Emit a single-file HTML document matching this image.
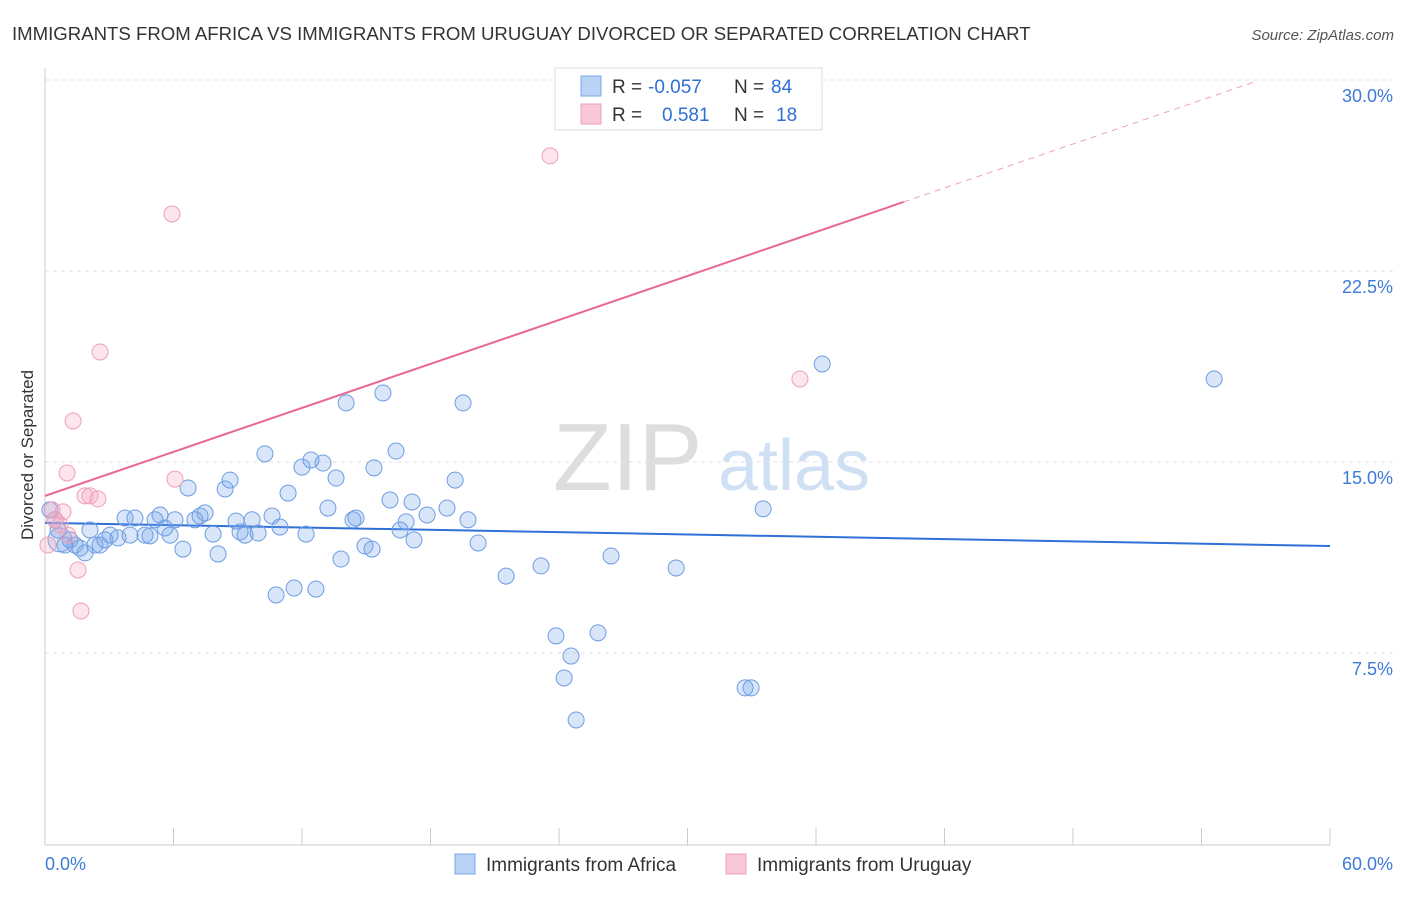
<!DOCTYPE html>
<html><head><meta charset="utf-8"><style>
body{margin:0;background:#fff;font-family:"Liberation Sans",sans-serif}
svg text{font-family:"Liberation Sans",sans-serif}
</style></head><body>
<svg id="chart" width="1406" height="892" viewBox="0 0 1406 892">
<text x="12" y="40" font-size="18.6" fill="#333">IMMIGRANTS FROM AFRICA VS IMMIGRANTS FROM URUGUAY DIVORCED OR SEPARATED CORRELATION CHART</text>
<text x="1394" y="40" font-size="15" fill="#555" font-style="italic" text-anchor="end">Source: ZipAtlas.com</text>
<text x="553" y="490" font-size="96" fill="#ddd" font-family="Liberation Serif">ZIP</text>
<text x="718" y="490" font-size="72" fill="#cfe0f5">atlas</text>
<g id="grid"></g><g id="axes"></g><g id="lines"></g><g id="points"></g>
<text transform="translate(33,455) rotate(-90)" font-size="17" fill="#333" text-anchor="middle">Divorced or Separated</text>
<g>
<rect x="555" y="68" width="267" height="62" fill="#fff" stroke="#ddd"/>
<rect x="581" y="76" width="20" height="20" fill="#b8d3f5" stroke="#7aa6e6"/>
<rect x="581" y="104" width="20" height="20" fill="#f9c8d6" stroke="#ef9fb8"/>
<text x="612" y="93" font-size="19" fill="#333">R = <tspan fill="#2e6fd6" x="648">-0.057</tspan><tspan x="734">N = </tspan><tspan fill="#2e6fd6" x="771">84</tspan></text>
<text x="612" y="121" font-size="19" fill="#333">R = <tspan fill="#2e6fd6" x="662">0.581</tspan><tspan x="734">N = </tspan><tspan fill="#2e6fd6" x="776">18</tspan></text>
</g>
<g>
<rect x="455" y="854" width="20" height="20" fill="#b8d3f5" stroke="#7aa6e6"/>
<text x="486" y="871" font-size="19" fill="#333">Immigrants from Africa</text>
<rect x="726" y="854" width="20" height="20" fill="#f9c8d6" stroke="#ef9fb8"/>
<text x="757" y="871" font-size="19" fill="#333">Immigrants from Uruguay</text>
</g>
</svg>
<script>
const blueX=[0.23,0.47,0.61,0.70,0.93,1.17,1.40,1.63,1.87,2.10,2.33,2.57,2.80,3.04,3.41,3.74,3.97,4.20,4.67,4.90,5.14,5.37,5.60,5.84,6.07,6.44,6.68,7.00,7.24,7.47,7.85,8.08,8.41,8.64,8.92,9.11,9.34,9.67,9.95,10.27,10.60,10.79,10.97,11.35,11.63,12.00,12.19,12.42,12.65,12.98,13.21,13.59,13.82,14.06,14.38,14.52,14.94,15.27,15.36,15.78,16.11,16.39,16.58,16.86,17.14,17.23,17.84,18.77,19.15,19.52,19.75,20.22,21.53,23.16,23.86,24.24,24.56,24.80,25.82,26.43,29.47,32.69,32.97,33.53,36.29,54.59];
const blueY=[13.12,12.73,12.33,11.94,11.74,11.94,11.74,11.62,11.43,12.33,11.74,11.74,11.94,12.13,12.02,12.80,12.13,12.80,12.13,12.10,12.73,12.92,12.41,12.13,12.73,11.58,13.98,12.73,12.88,13.00,12.17,11.39,13.94,14.29,12.68,12.25,12.13,12.73,12.21,15.32,12.88,9.78,12.45,13.78,10.05,14.80,12.17,15.08,10.01,14.96,13.19,14.37,11.19,17.32,12.73,12.80,11.70,11.58,14.77,17.71,13.51,15.43,12.33,12.65,13.43,11.94,12.92,13.19,14.29,17.32,12.73,11.82,10.52,10.92,8.17,6.52,7.38,4.87,8.29,11.31,10.84,6.13,6.13,13.16,18.85,18.26];
const pinkX=[0.14,0.33,0.47,0.70,0.84,1.07,1.03,1.31,1.54,1.68,1.87,2.10,2.47,2.57,5.93,6.07,23.58,35.25];
const pinkY=[11.74,13.12,12.73,12.53,13.04,12.13,14.57,16.61,10.76,9.15,13.67,13.67,13.55,19.32,24.74,14.33,27.02,18.26];
const blueTrend=[12.61,11.70];
const pinkTrend=[13.67,25.21];
const yTicks=[7.5,15.0,22.5,30.0];
const xTickLabels=["0.0%","60.0%"];
const NS="http://www.w3.org/2000/svg";
const sx=v=>45+v/60*1285, sy=v=>844-v/7.5*191;
function mk(t,a,p){const e=document.createElementNS(NS,t);for(const k in a)e.setAttribute(k,a[k]);p.appendChild(e);return e;}
const grid=document.getElementById('grid'),axes=document.getElementById('axes'),lines=document.getElementById('lines'),pts=document.getElementById('points');
yTicks.forEach(t=>{
 const l=mk('line',{x1:45,x2:1394,y1:sy(t),y2:sy(t),stroke:'#e2e2e2','stroke-dasharray':'4,4'},grid);
 
 
 const tx=mk('text',{x:1393,y:sy(t)+22,'font-size':18,fill:'#3d7bd9','text-anchor':'end'},axes);
 tx.textContent=t.toFixed(1)+'%';
 
 
});
const ax=mk('line',{x1:45,x2:1330,y1:845,y2:845,stroke:'#ccc'},axes);


const ay=mk('line',{x1:45,x2:45,y1:68,y2:845,stroke:'#ccc'},axes);


for(let i=0;i<=10;i++){const x=sx(i*6);const tk=mk('line',{x1:x,x2:x,y1:828,y2:845,stroke:'#ccc'},axes);
 
 }
xTickLabels.forEach((s,i)=>{const t=mk('text',{x:i?1393:45,y:870,'font-size':18,fill:'#3d7bd9','text-anchor':i?'end':'start'},axes);t.textContent=s;
 
 });
const bl=mk('line',{x1:sx(0),y1:sy(blueTrend[0]),x2:sx(60),y2:sy(blueTrend[1]),stroke:'#2f6fd6','stroke-width':2},lines);


const pv=x=>pinkTrend[0]+(pinkTrend[1]-pinkTrend[0])*x/40.09;
const pl=mk('line',{x1:sx(0),y1:sy(pv(0)),x2:sx(40.09),y2:sy(pv(40.09)),stroke:'#e8698f','stroke-width':2},lines);


const pd=mk('line',{x1:sx(40.09),y1:sy(pv(40.09)),x2:sx(56.5),y2:sy(pv(56.5)),stroke:'#eea0b8','stroke-width':1,'stroke-dasharray':'6,5'},lines);


blueX.forEach((x,i)=>{const c=mk('circle',{cx:sx(x),cy:sy(blueY[i]),r:i==3?12:8,fill:'rgba(120,165,235,0.28)',stroke:'#6d9de3','stroke-width':1},pts);
 
 });
pinkX.forEach((x,i)=>{const c=mk('circle',{cx:sx(x),cy:sy(pinkY[i]),r:8,fill:'rgba(245,160,190,0.28)',stroke:'#eea0b8','stroke-width':1},pts);
 
 });
</script>
</body></html>
